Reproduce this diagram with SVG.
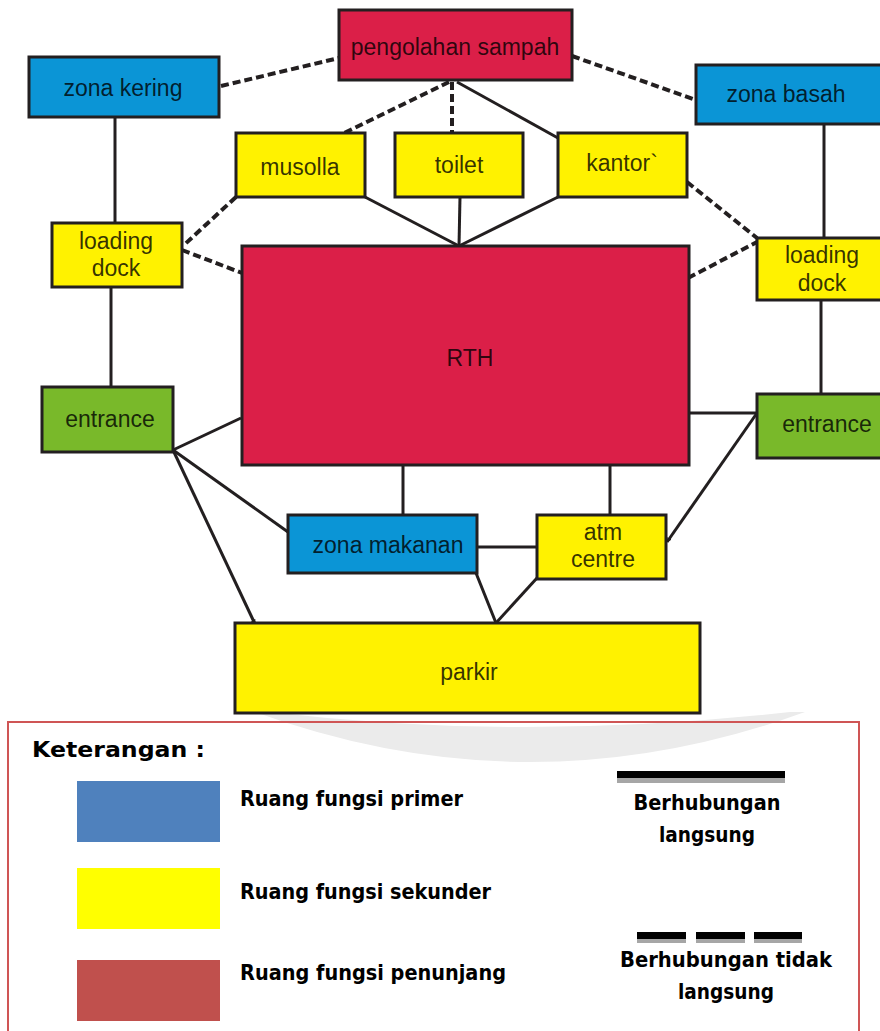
<svg xmlns="http://www.w3.org/2000/svg" width="880" height="1031" viewBox="0 0 880 1031">
  <style>
    .box { stroke: #231f20; stroke-width: 3; }
    .red { fill: #db1f48; }
    .yel { fill: #fff200; }
    .blu { fill: #0b95d6; }
    .grn { fill: #79b92a; }
    .lbl { font-family: "Liberation Sans", Arial, sans-serif; font-size: 23px; fill: #000; fill-opacity: 0.8; text-anchor: middle; }
    .solid { stroke: #231f20; stroke-width: 3; fill: none; }
    .dash { stroke: #231f20; stroke-width: 4; stroke-dasharray: 8 4; fill: none; }
    .leg { font-family: "DejaVu Sans", Verdana, sans-serif; font-weight: bold; fill: #000; font-size: 22px; }
  </style>
  <defs>
    <marker id="arrow" viewBox="0 0 10 10" refX="9" refY="5" markerWidth="5" markerHeight="5" orient="auto" markerUnits="userSpaceOnUse">
      <path d="M0,0 L10,5 L0,10 z" fill="#231f20"/>
    </marker>
  </defs>

  <rect width="880" height="1031" fill="#ffffff"/>

  <!-- faint background arc -->
  <path d="M255,712 Q530,812 805,712 L790,712 Q520,742 270,712 Z" fill="#ebebeb"/>

  <!-- connectors -->
  <g id="connectors">
    <!-- dashed: indirect relations -->
    <line class="dash" x1="221" y1="86" x2="339" y2="58"/>
    <line class="dash" x1="572" y1="56" x2="696" y2="100"/>
    <line class="dash" x1="449" y1="82" x2="342" y2="134"/>
    <line class="dash" x1="452" y1="82" x2="452" y2="133"/>
    <line class="dash" x1="236" y1="197" x2="184" y2="245"/>
    <line class="dash" x1="182" y1="250" x2="242" y2="273"/>
    <line class="dash" x1="687" y1="182" x2="757" y2="238"/>
    <line class="dash" x1="688" y1="278" x2="757" y2="242"/>
    <!-- solid: direct relations -->
    <line class="solid" x1="457" y1="82" x2="558" y2="138"/>
    <line class="solid" x1="365" y1="197" x2="459" y2="246"/>
    <line class="solid" x1="460" y1="197" x2="459" y2="246"/>
    <line class="solid" x1="558" y1="197" x2="459" y2="246"/>
    <line class="solid" x1="115" y1="117" x2="115" y2="223"/>
    <line class="solid" x1="111" y1="287" x2="111" y2="387"/>
    <line class="solid" x1="824" y1="124" x2="824" y2="238"/>
    <line class="solid" x1="821" y1="300" x2="821" y2="394"/>
    <line class="solid" x1="173" y1="450" x2="241" y2="418"/>
    <line class="solid" x1="173" y1="450" x2="288" y2="532"/>
    <line class="solid" x1="173" y1="450" x2="255" y2="624" marker-end="url(#arrow)"/>
    <line class="solid" x1="689" y1="413" x2="757" y2="413"/>
    <line class="solid" x1="757" y1="413" x2="667" y2="542" marker-end="url(#arrow)"/>
    <line class="solid" x1="403" y1="465" x2="403" y2="515"/>
    <line class="solid" x1="610" y1="465" x2="610" y2="515"/>
    <line class="solid" x1="477" y1="547" x2="537" y2="547"/>
    <line class="solid" x1="476" y1="573" x2="496" y2="623"/>
    <line class="solid" x1="537" y1="578" x2="496" y2="623"/>
  </g>

  <!-- nodes -->
  <g id="pengolahan-sampah">
    <rect class="box red" x="339" y="10" width="233" height="70"/>
    <text class="lbl" x="455" y="55">pengolahan sampah</text>
  </g>
  <g id="zona-kering">
    <rect class="box blu" x="29" y="57" width="190" height="60"/>
    <text class="lbl" x="123" y="96">zona kering</text>
  </g>
  <g id="zona-basah">
    <rect class="box blu" x="696" y="65" width="190" height="59"/>
    <text class="lbl" x="786" y="102">zona basah</text>
  </g>
  <g id="musolla">
    <rect class="box yel" x="236" y="133" width="129" height="64"/>
    <text class="lbl" x="300" y="175">musolla</text>
  </g>
  <g id="toilet">
    <rect class="box yel" x="395" y="133" width="128" height="64"/>
    <text class="lbl" x="459" y="173">toilet</text>
  </g>
  <g id="kantor">
    <rect class="box yel" x="558" y="133" width="129" height="64"/>
    <text class="lbl" x="622" y="171">kantor`</text>
  </g>
  <g id="loading-dock-kiri">
    <rect class="box yel" x="52" y="223" width="130" height="64"/>
    <text class="lbl" x="116" y="249">loading</text>
    <text class="lbl" x="116" y="276">dock</text>
  </g>
  <g id="loading-dock-kanan">
    <rect class="box yel" x="757" y="238" width="130" height="62"/>
    <text class="lbl" x="822" y="263">loading</text>
    <text class="lbl" x="822" y="291">dock</text>
  </g>
  <g id="rth">
    <rect class="box red" x="242" y="246" width="447" height="219"/>
    <text class="lbl" x="470" y="366">RTH</text>
  </g>
  <g id="entrance-kiri">
    <rect class="box grn" x="42" y="387" width="131" height="65"/>
    <text class="lbl" x="110" y="427">entrance</text>
  </g>
  <g id="entrance-kanan">
    <rect class="box grn" x="757" y="394" width="130" height="64"/>
    <text class="lbl" x="827" y="432">entrance</text>
  </g>
  <g id="zona-makanan">
    <rect class="box blu" x="288" y="515" width="189" height="58"/>
    <text class="lbl" x="388" y="553">zona makanan</text>
  </g>
  <g id="atm-centre">
    <rect class="box yel" x="537" y="515" width="129" height="64"/>
    <text class="lbl" x="603" y="540">atm</text>
    <text class="lbl" x="603" y="567">centre</text>
  </g>
  <g id="parkir">
    <rect class="box yel" x="235" y="623" width="465" height="90"/>
    <text class="lbl" x="469" y="680">parkir</text>
  </g>

  <!-- legend -->
  <g id="keterangan">
    <rect x="8" y="722" width="851" height="320" fill="none" stroke="#cf5555" stroke-width="2"/>
    <text class="leg" x="32" y="757" font-size="26" textLength="173" lengthAdjust="spacingAndGlyphs">Keterangan :</text>

    <rect x="77" y="781" width="143" height="61" fill="#4f81bd"/>
    <text class="leg" x="240" y="806" textLength="223" lengthAdjust="spacingAndGlyphs">Ruang fungsi primer</text>

    <rect x="77" y="868" width="143" height="61" fill="#ffff00"/>
    <text class="leg" x="240" y="899" textLength="251" lengthAdjust="spacingAndGlyphs">Ruang fungsi sekunder</text>

    <rect x="77" y="960" width="143" height="61" fill="#c0504d"/>
    <text class="leg" x="240" y="980" textLength="266" lengthAdjust="spacingAndGlyphs">Ruang fungsi penunjang</text>

    <!-- direct relation sample -->
    <rect x="617" y="776" width="168" height="7" fill="#a6a6a6"/>
    <rect x="617" y="771" width="168" height="7" fill="#000"/>
    <text class="leg" x="707" y="810" text-anchor="middle" textLength="147" lengthAdjust="spacingAndGlyphs">Berhubungan</text>
    <text class="leg" x="707" y="842" text-anchor="middle" textLength="96" lengthAdjust="spacingAndGlyphs">langsung</text>

    <!-- indirect relation sample -->
    <g fill="#a6a6a6">
      <rect x="637" y="937" width="49" height="6"/>
      <rect x="696" y="937" width="49" height="6"/>
      <rect x="754" y="937" width="48" height="6"/>
    </g>
    <g fill="#000">
      <rect x="637" y="932" width="49" height="7"/>
      <rect x="696" y="932" width="49" height="7"/>
      <rect x="754" y="932" width="48" height="7"/>
    </g>
    <text class="leg" x="726" y="967" text-anchor="middle" textLength="212" lengthAdjust="spacingAndGlyphs">Berhubungan tidak</text>
    <text class="leg" x="726" y="999" text-anchor="middle" textLength="96" lengthAdjust="spacingAndGlyphs">langsung</text>
  </g>
</svg>
